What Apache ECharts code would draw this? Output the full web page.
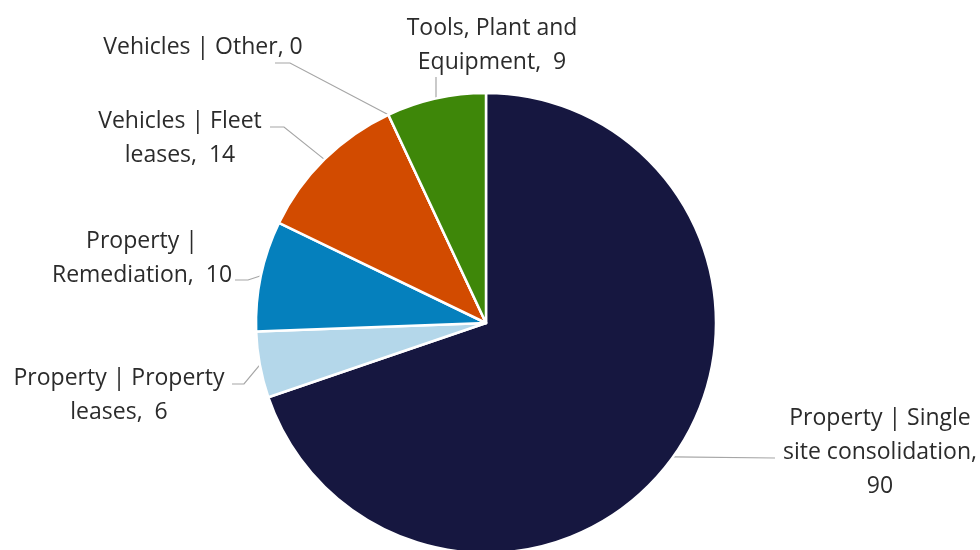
<!DOCTYPE html>
<html>
<head>
<meta charset="utf-8">
<script src="https://cdn.jsdelivr.net/npm/echarts@6/dist/echarts.min.js"></script>
<style>
  html, body { margin: 0; padding: 0; background: #fff; }
  #chart { width: 980px; height: 550px; }
</style>
</head>
<body>
<div id="chart"></div>
<script>
// Category names; '\n' marks where each label wraps
const categories = [
  'Property | Single\nsite consolidation,',
  'Property | Property\nleases,',
  'Property |\nRemediation,',
  'Vehicles | Fleet\nleases,',
  'Vehicles | Other,',
  'Tools, Plant and\nEquipment,'
];
const values = [90, 6, 10, 14, 0, 9];
const colors = ['#161740', '#B4D7EA', '#0580BD', '#D24B00', '#7F7F7F', '#3E8709'];
// value placed on its own line for the long first label
const valueOnNewLine = [true, false, false, false, false, false];
const valueSep = ['', '  ', '  ', '  ', ' ', '  '];

// label anchor (centre of each text block), in px
const labelSpots = [
  [880, 452], [119, 395], [142, 258], [180, 138], [203, 47], [492, 45]
];
// leader line: elbow and end offsets from the label centre
const leaderElbow = [[-105, 6], [125, -11], [106, 22], [104, -11], [87, 16], [null, 32]];
const leaderEnd   = [[-105, 6], [113, -11], [93, 22], [90, -11], [72, 16], [null, 32]];

const chart = echarts.init(document.getElementById('chart'));
const CX = 486, CY = 323, R = 230;
const total = values.reduce((a, b) => a + b, 0);

// point on the rim at the middle of slice i (clockwise from 12 o'clock)
function rimMid(i) {
  let before = 0;
  for (let k = 0; k < i; k++) before += values[k];
  const a = (before + values[i] / 2) / total * Math.PI * 2;
  return [CX + R * Math.sin(a), CY - R * Math.cos(a)];
}

chart.setOption({
  animation: false,
  series: [{
    type: 'pie',
    center: [CX, CY],
    radius: R,
    startAngle: 90,
    clockwise: true,
    avoidLabelOverlap: false,
    data: categories.map((c, i) => ({
      name: c,
      value: values[i],
      itemStyle: { color: colors[i] }
    })),
    itemStyle: { borderColor: '#ffffff', borderWidth: 2.5 },
    label: {
      show: true,
      position: 'outside',
      color: '#2b2b2b',
      fontFamily: 'Open Sans',
      fontSize: 23,
      lineHeight: 34,
      align: 'center',
      formatter: p => p.name + (valueOnNewLine[p.dataIndex] ? '\n' : valueSep[p.dataIndex]) + p.value
    },
    labelLine: {
      show: true,
      length: 15,
      length2: 15,
      lineStyle: { color: '#A6A6A6', width: 1.2 }
    },
    labelLayout: p => {
      const i = p.dataIndex;
      const [lx, ly] = labelSpots[i];
      const s = rimMid(i);
      const el = leaderElbow[i], en = leaderEnd[i];
      const elbow = [el[0] == null ? s[0] : lx + el[0], ly + el[1]];
      const end = [en[0] == null ? s[0] : lx + en[0], ly + en[1]];
      return {
        x: lx,
        y: ly,
        align: 'center',
        verticalAlign: 'middle',
        labelLinePoints: [s, elbow, end]
      };
    }
  }]
});
</script>
</body>
</html>
